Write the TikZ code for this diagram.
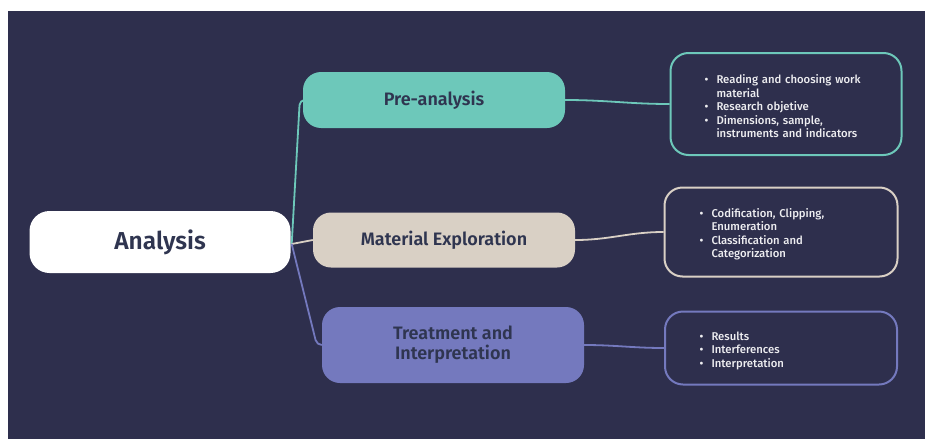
\documentclass[tikz,border=0pt]{standalone}
\usepackage{fontspec}
\setmainfont{Fira Sans}[BoldFont={Fira Sans SemiBold}]
\newfontfamily\medfont{Fira Sans Medium}
\usetikzlibrary{positioning}
\definecolor{bgnavy}{HTML}{2E2F4D}
\definecolor{tealc}{HTML}{6DC8BA}
\definecolor{beigec}{HTML}{D9D0C5}
\definecolor{purplec}{HTML}{7479BE}
\definecolor{inknavy}{HTML}{2F3550}
\newcommand{\bitem}[1]{\par\hangindent=12pt\hangafter=1\noindent\makebox[12pt][l]{\textbullet}#1}

\begin{document}
\begin{tikzpicture}[x=1pt,y=-1pt,
  mainbox/.style={rounded corners=20pt, fill=white, text=inknavy, font=\bfseries\fontsize{24.5}{28}\selectfont,
    minimum width=261pt, minimum height=62pt},
  stagebox/.style={rounded corners=18pt, text=inknavy, align=center,
    font=\bfseries\fontsize{18}{20}\selectfont, minimum width=262pt},
  listbox/.style={rounded corners=18pt, line width=2pt, text=white!92!bgnavy,
    inner xsep=34pt, text width=163pt, font=\medfont\fontsize{11.3}{13.5}\selectfont},
  link/.style={line width=1.8pt}]
  % background
  \fill[white] (0,0) rectangle (925,439);
  \fill[bgnavy] (8,11) rectangle (925,439);
  % root
  \node[mainbox] (an) at (160,242) {Analysis};
  % stages
  \node[stagebox, fill=tealc, minimum height=56pt] (pre) at (434,100) {Pre-analysis};
  \node[stagebox, fill=beigec, minimum height=55pt] (mat) at (444,240) {Material Exploration};
  \node[stagebox, fill=purplec, minimum height=76pt] (trt) at (453,345) {Treatment and\\Interpretation};
  % lists
  \node[listbox, draw=tealc, minimum width=231pt, minimum height=102pt] (lpre) at (786,104)
    {\bitem{Reading and choosing work\newline material}\bitem{Research objetive}\bitem{Dimensions, sample,\newline instruments and indicators}\par};
  \node[listbox, draw=beigec, minimum width=233pt, minimum height=89pt] (lmat) at (781,232)
    {\bitem{Codification, Clipping,\newline Enumeration}\bitem{Classification and\newline Categorization}\par};
  \node[listbox, draw=purplec, minimum width=232pt, minimum height=73pt] (ltrt) at (781,348)
    {\bitem{Results}\bitem{Interferences}\bitem{Interpretation}\par};
  % links
  \draw[link, tealc, rounded corners=5pt] ([xshift=1pt,yshift=-2pt]an.east) -- ([xshift=-3pt]pre.west) -- (pre.west);
  \draw[link, beigec] ([xshift=1pt,yshift=-2pt]an.east) -- (mat.west);
  \draw[link, purplec, rounded corners=5pt] ([xshift=1pt,yshift=-2pt]an.east) -- ([xshift=-5pt]trt.west) -- (trt.west);
  \draw[link, tealc] (pre.east) to[out=0,in=180] (lpre.west);
  \draw[link, beigec] (mat.east) to[out=0,in=180] (lmat.west);
  \draw[link, purplec] (trt.east) to[out=0,in=180] (ltrt.west);
\end{tikzpicture}
\end{document}
